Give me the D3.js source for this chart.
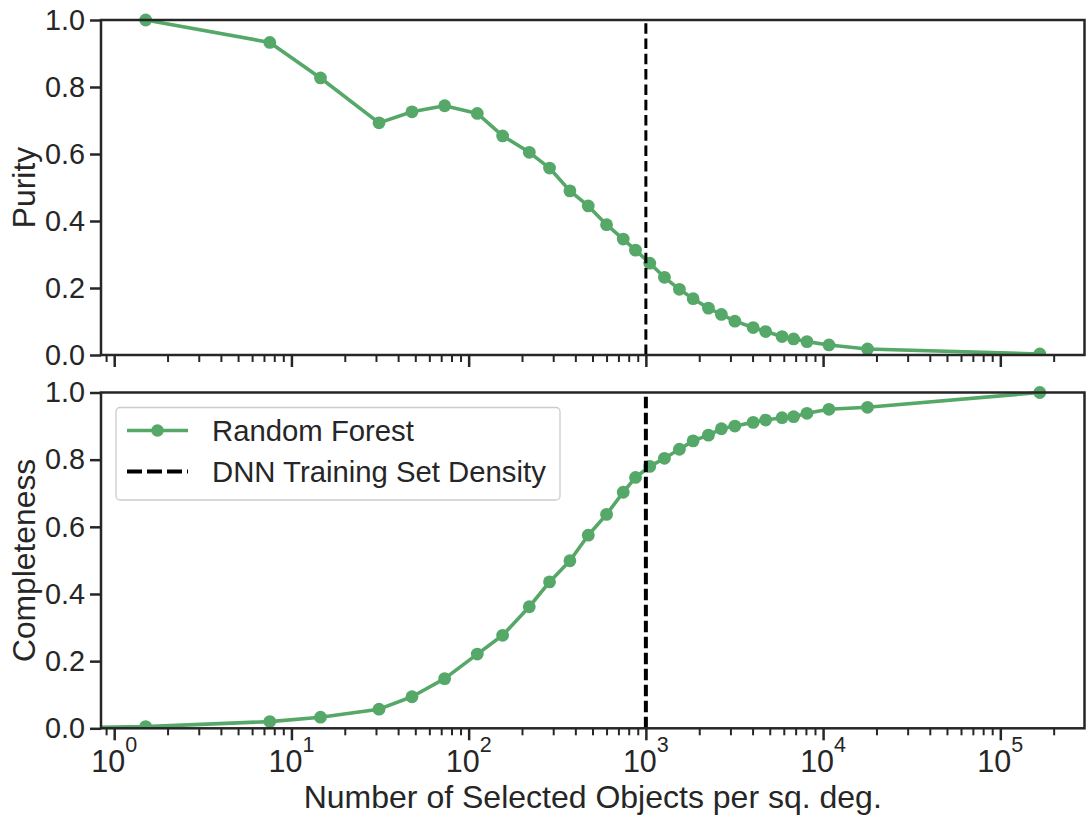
<!DOCTYPE html>
<html>
<head>
<meta charset="utf-8">
<script src="https://cdn.jsdelivr.net/npm/d3@7"></script>
<style>
  html, body { margin: 0; padding: 0; background: #ffffff; }
  svg { display: block; font-family: "Liberation Sans", Arial, Helvetica, sans-serif; }
</style>
</head>
<body>
<svg id="chart" width="1086" height="818"></svg>
<script>
// Selection threshold: number of selected objects per sq. deg. (0 = nothing selected)
const density = [0, 1.505, 7.55, 14.59, 31.2, 47.9, 73.2, 111.9, 155.5, 219.9, 286, 372.6, 473, 600,
  745, 874, 1052, 1273, 1546, 1848, 2254, 2668, 3178, 4030, 4742, 5866, 6816, 8110, 10790, 17810, 167000];

// Random Forest purity (undefined when nothing is selected)
const purity = [null, 1.0, 0.933, 0.827, 0.693, 0.726, 0.744, 0.721, 0.654, 0.605, 0.558, 0.490, 0.445,
  0.389, 0.346, 0.313, 0.274, 0.232, 0.196, 0.168, 0.140, 0.121, 0.101, 0.082, 0.070, 0.055, 0.048,
  0.040, 0.030, 0.018, 0.003];

// Random Forest completeness
const completeness = [0, 0.005, 0.020, 0.033, 0.057, 0.094, 0.148, 0.221, 0.277, 0.362, 0.436, 0.499,
  0.575, 0.637, 0.703, 0.747, 0.780, 0.804, 0.831, 0.856, 0.873, 0.892, 0.900, 0.911, 0.918, 0.925,
  0.928, 0.938, 0.950, 0.956, 1.0];

// DNN training set density marker
const trainingDensity = [1000];

const yTicks = [0, 0.2, 0.4, 0.6, 0.8, 1.0];
const xMajorTicks = [1, 10, 100, 1000, 10000, 100000];
const xExponents = ["0", "1", "2", "3", "4", "5"];
const legendLabels = ["Random Forest", "DNN Training Set Density"];
const yLabels = ["Purity", "Completeness"];
const xLabel = "Number of Selected Objects per sq. deg.";

const GREEN = "#55a868";
const INK = "#262626";

const svg = d3.select("#chart");

const left = 101, right = 1084.5;
const panels = [
  { top: 20, bottom: 355, values: purity, label: yLabels[0], dashW: 3, showX: false, legend: false },
  { top: 392.5, bottom: 728.3, values: completeness, label: yLabels[1], dashW: 4, showX: true, legend: true }
];

const x = d3.scaleLog().domain([Math.pow(10, -0.0745), Math.pow(10, 5.475)]).range([left, right]);

// minor ticks: 2..9 x 10^k inside the domain
const xMinorTicks = [];
for (let k = -1; k <= 5; k++) {
  for (let m = 2; m <= 9; m++) {
    const v = m * Math.pow(10, k);
    if (v >= x.domain()[0] && v <= x.domain()[1]) xMinorTicks.push(v);
  }
}

// on a log axis a zero threshold sits past the left edge of the axes
const xPos = d => d > 0 ? x(d) : x.range()[0] - 50;

panels.forEach((p, pi) => {
  const y = d3.scaleLinear().domain([0, 1]).range([p.bottom, p.top]);
  const g = svg.append("g");

  const clipId = "clip" + pi;
  svg.append("defs").append("clipPath").attr("id", clipId)
    .append("rect").attr("x", left).attr("y", p.top - 8).attr("width", right - left).attr("height", p.bottom - p.top + 8);

  // series
  const pts = density.map((d, i) => ({ x: d, v: p.values[i] })).filter(d => d.v !== null);
  const plot = g.append("g").attr("clip-path", `url(#${clipId})`);
  plot.append("path")
    .datum(pts)
    .attr("fill", "none")
    .attr("stroke", GREEN)
    .attr("stroke-width", 3.6)
    .attr("stroke-linejoin", "round")
    .attr("d", d3.line().x(d => xPos(d.x)).y(d => y(d.v)));
  plot.selectAll("circle")
    .data(pts.filter(d => d.x > 0))
    .join("circle")
    .attr("cx", d => x(d.x))
    .attr("cy", d => y(d.v))
    .attr("r", 6.4)
    .attr("fill", GREEN);

  // training set density line
  plot.selectAll("line.train")
    .data(trainingDensity)
    .join("line")
    .attr("class", "train")
    .attr("x1", d => x(d)).attr("x2", d => x(d))
    .attr("y1", p.bottom).attr("y2", p.top)
    .attr("stroke", "#000")
    .attr("stroke-width", p.dashW)
    .attr("stroke-dasharray", p.dashW === 3 ? "10.5,4.8" : "11.5,4.5");

  // y axis
  const yAxis = g.append("g").attr("transform", `translate(${left},0)`)
    .call(d3.axisLeft(y).tickValues(yTicks).tickSize(11).tickPadding(5).tickFormat(d3.format(".1f")));
  yAxis.select(".domain").remove();
  yAxis.selectAll(".tick line").attr("stroke", INK).attr("stroke-width", 2.5);
  yAxis.selectAll(".tick text").attr("fill", INK).attr("font-size", 28.8)
    .attr("font-family", '"Liberation Sans", Arial, sans-serif');

  // x axis: major + minor ticks
  const xMajor = g.append("g").attr("transform", `translate(0,${p.bottom})`)
    .call(d3.axisBottom(x).tickValues(xMajorTicks).tickSize(12).tickFormat(() => ""));
  xMajor.select(".domain").remove();
  xMajor.selectAll(".tick line").attr("stroke", INK).attr("stroke-width", 2.5);
  const xMinor = g.append("g").attr("transform", `translate(0,${p.bottom})`)
    .call(d3.axisBottom(x).tickValues(xMinorTicks).tickSize(7).tickFormat(() => ""));
  xMinor.select(".domain").remove();
  xMinor.selectAll(".tick line").attr("stroke", INK).attr("stroke-width", 2);

  if (p.showX) {
    const lbl = g.append("g").selectAll("text")
      .data(xMajorTicks)
      .join("text")
      .attr("x", d => x(d))
      .attr("y", p.bottom + 43.5)
      .attr("text-anchor", "middle")
      .attr("fill", INK)
      .attr("font-size", 30.5);
    lbl.append("tspan").text("10");
    lbl.append("tspan").attr("dy", -20).attr("font-size", 21.5).text((d, i) => xExponents[i]);

    g.append("text")
      .attr("x", (left + right) / 2)
      .attr("y", 807.5)
      .attr("text-anchor", "middle")
      .attr("fill", INK)
      .attr("font-size", 32)
      .text(xLabel);
  }

  // spines
  g.append("rect")
    .attr("x", left).attr("y", p.top)
    .attr("width", right - left).attr("height", p.bottom - p.top)
    .attr("fill", "none").attr("stroke", INK).attr("stroke-width", 2.5);

  // y label
  g.append("text")
    .attr("transform", `translate(35,${(p.top + p.bottom) / 2}) rotate(-90)`)
    .attr("text-anchor", "middle")
    .attr("fill", INK)
    .attr("font-size", 31.8)
    .text(p.label);

  if (p.legend) {
    const lg = g.append("g");
    lg.append("rect")
      .attr("x", 116).attr("y", 407.5).attr("width", 444).attr("height", 92.5)
      .attr("rx", 4).attr("ry", 4)
      .attr("fill", "#ffffff").attr("fill-opacity", 0.8)
      .attr("stroke", "#cccccc").attr("stroke-width", 1.3);
    // Random Forest entry
    lg.append("line").attr("x1", 127).attr("x2", 188).attr("y1", 430.5).attr("y2", 430.5)
      .attr("stroke", GREEN).attr("stroke-width", 3.6);
    lg.append("circle").attr("cx", 157.5).attr("cy", 430.5).attr("r", 6.2).attr("fill", GREEN);
    // training density entry
    lg.append("line").attr("x1", 127).attr("x2", 188).attr("y1", 471.5).attr("y2", 471.5)
      .attr("stroke", "#000").attr("stroke-width", 4).attr("stroke-dasharray", "15,5");
    lg.selectAll("text.lab")
      .data(legendLabels)
      .join("text")
      .attr("class", "lab")
      .attr("x", 212)
      .attr("y", (d, i) => 441 + i * 41)
      .attr("fill", INK)
      .attr("font-size", 29.3)
      .text(d => d);
  }
});
</script>
</body>
</html>
